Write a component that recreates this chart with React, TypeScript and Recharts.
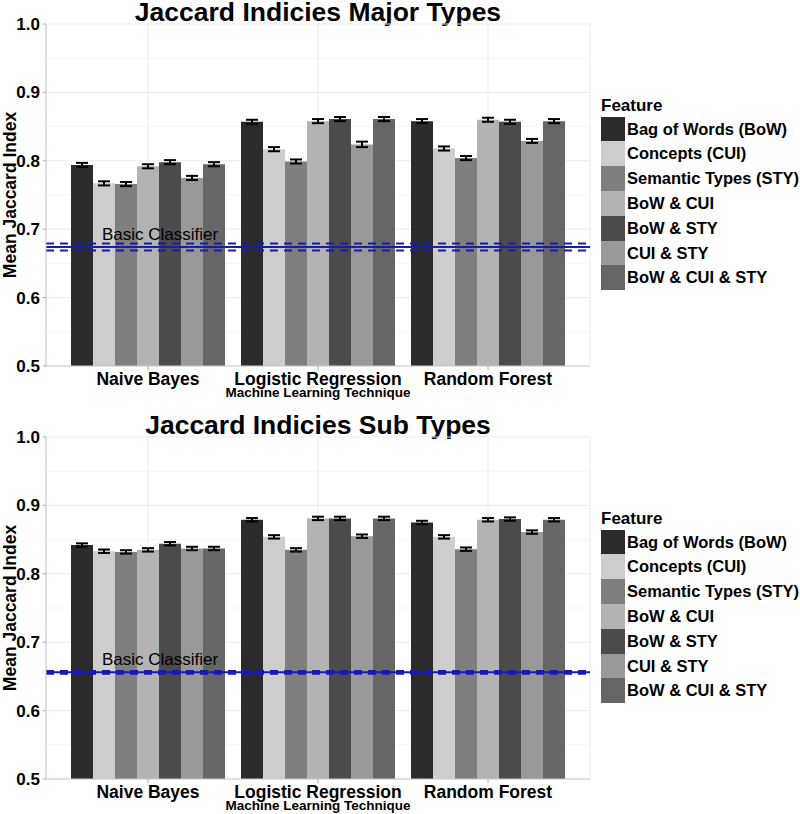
import React from 'react'
import {
  BarChart,
  Bar,
  XAxis,
  YAxis,
  CartesianGrid,
  ReferenceLine,
  ErrorBar,
} from 'recharts'

const techniques = ['Naive Bayes', 'Logistic Regression', 'Random Forest']
const features = [
  'Bag of Words (BoW)',
  'Concepts (CUI)',
  'Semantic Types (STY)',
  'BoW & CUI',
  'BoW & STY',
  'CUI & STY',
  'BoW & CUI & STY',
]
const featureKeys = ['bow', 'cui', 'sty', 'bowCui', 'bowSty', 'cuiSty', 'all']
const featureColors = ['#2b2b2b', '#cdcdcd', '#7f7f7f', '#b3b3b3', '#4b4b4b', '#999999', '#666666']

const yTicks = [0.5, 0.6, 0.7, 0.8, 0.9, 1.0]
const yMinorTicks = [0.55, 0.65, 0.75, 0.85, 0.95]

// Major types: mean Jaccard per feature set
const majorNaiveBayes = [0.794, 0.767, 0.766, 0.792, 0.798, 0.775, 0.795]
const majorLogistic = [0.857, 0.817, 0.799, 0.858, 0.861, 0.824, 0.861]
const majorForest = [0.858, 0.818, 0.804, 0.860, 0.857, 0.829, 0.858]
const majorErrNaiveBayes = [0.003, 0.003, 0.003, 0.003, 0.003, 0.003, 0.003]
const majorErrLogistic = [0.003, 0.003, 0.003, 0.003, 0.003, 0.004, 0.003]
const majorErrForest = [0.003, 0.003, 0.003, 0.003, 0.003, 0.003, 0.003]
// basic classifier: lower bound, mean, upper bound
const majorBaseline = [0.669, 0.674, 0.679]

// Sub types
const subNaiveBayes = [0.842, 0.833, 0.832, 0.835, 0.844, 0.837, 0.837]
const subLogistic = [0.879, 0.854, 0.835, 0.881, 0.881, 0.855, 0.881]
const subForest = [0.875, 0.854, 0.836, 0.879, 0.880, 0.861, 0.879]
const subErrNaiveBayes = [0.0025, 0.0025, 0.0025, 0.0025, 0.0025, 0.0025, 0.0025]
const subErrLogistic = [0.0025, 0.0025, 0.0025, 0.0025, 0.0025, 0.0025, 0.0025]
const subErrForest = [0.0025, 0.0025, 0.0025, 0.0025, 0.0025, 0.0025, 0.0025]
const subBaseline = [0.654, 0.656, 0.658]

const FONT = '"Liberation Sans", Arial, sans-serif'
const BLUE = '#1a1ab0'

function buildRows(values: number[][], errors: number[][]) {
  return techniques.map((t, i) => {
    const row: Record<string, string | number> = { technique: t }
    featureKeys.forEach((k, j) => {
      row[k] = values[i][j]
      row[k + 'Err'] = errors[i][j]
    })
    return row
  })
}

const majorRows = buildRows(
  [majorNaiveBayes, majorLogistic, majorForest],
  [majorErrNaiveBayes, majorErrLogistic, majorErrForest]
)
const subRows = buildRows(
  [subNaiveBayes, subLogistic, subForest],
  [subErrNaiveBayes, subErrLogistic, subErrForest]
)

const XTick = ({ x, y, payload }: any) => (
  <text x={x} y={y + 12.5} textAnchor="middle" fontFamily={FONT} fontWeight={700} fontSize={17.5} fill="#000">
    {payload.value}
  </text>
)

function FeatureLegend() {
  return (
    <div style={{ position: 'absolute', left: 601, top: 96, fontFamily: FONT, fontWeight: 700 }}>
      <div style={{ fontSize: 17, lineHeight: '20px', height: 20.7 }}>Feature</div>
      {features.map((f, i) => (
        <div key={f} style={{ display: 'flex', alignItems: 'center', height: 24.8 }}>
          <div style={{ width: 24, height: 24.8, background: featureColors[i] }} />
          <span style={{ fontSize: 16.5, marginLeft: 2, whiteSpace: 'nowrap' }}>{f}</span>
        </div>
      ))}
    </div>
  )
}

function JaccardPanel({
  title,
  rows,
  baseline,
  top,
  height,
}: {
  title: string
  rows: Record<string, string | number>[]
  baseline: number[]
  top: number
  height: number
}) {
  return (
    <div style={{ position: 'absolute', left: 0, top, width: 800, height }}>
      <div
        style={{
          position: 'absolute',
          left: 46,
          width: 544,
          top: 0,
          textAlign: 'center',
          fontFamily: FONT,
          fontWeight: 700,
          fontSize: 26.5,
          lineHeight: '24.5px',
        }}
      >
        {title}
      </div>
      <BarChart
        width={800}
        height={height}
        data={rows}
        margin={{ top: 24, right: 210, bottom: height - 366 - 34, left: 0 }}
        barGap={0}
        barCategoryGap={8}
      >
        <CartesianGrid stroke="#f5f5f5" horizontalValues={yMinorTicks} vertical={false} />
        <CartesianGrid stroke="#ebebeb" horizontalValues={yTicks} />
        <XAxis
          dataKey="technique"
          padding={{ left: 17, right: 17 }}
          height={34}
          tickSize={4}
          tickMargin={2}
          axisLine={{ stroke: '#cccccc' }}
          tickLine={{ stroke: '#aaaaaa' }}
          tick={<XTick />}
          interval={0}
          label={({ viewBox }: any) => (
            <text
              x={viewBox.x + viewBox.width / 2}
              y={397}
              textAnchor="middle"
              fontFamily={FONT}
              fontWeight={700}
              fontSize={13.5}
              fill="#000"
            >
              Machine Learning Technique
            </text>
          )}
        />
        <XAxis
          xAxisId="top"
          orientation="top"
          dataKey="technique"
          height={0}
          padding={{ left: 17, right: 17 }}
          tick={false}
          tickLine={false}
          axisLine={{ stroke: '#cccccc' }}
        />
        <YAxis
          domain={[0.5, 1]}
          ticks={yTicks}
          width={46}
          tickSize={3}
          tickMargin={3}
          interval={0}
          axisLine={{ stroke: '#cccccc' }}
          tickLine={{ stroke: '#aaaaaa' }}
          tickFormatter={(v: number) => v.toFixed(1)}
          tick={{ fill: '#000', fontSize: 17, fontWeight: 700, fontFamily: FONT }}
          label={({ viewBox }: any) => (
            <text
              x={15.5}
              y={viewBox.y + viewBox.height / 2}
              transform={`rotate(-90, 15.5, ${viewBox.y + viewBox.height / 2})`}
              textAnchor="middle"
              fontFamily={FONT}
              fontWeight={700}
              fontSize={17.5}
              fill="#000"
            >
              Mean Jaccard Index
            </text>
          )}
        />
        <YAxis
          yAxisId="right"
          orientation="right"
          domain={[0.5, 1]}
          width={0}
          tick={false}
          tickLine={false}
          axisLine={{ stroke: '#cccccc' }}
        />
        {featureKeys.map((k, i) => (
          <Bar key={k} dataKey={k} name={features[i]} fill={featureColors[i]} isAnimationActive={false}>
            <ErrorBar dataKey={k + 'Err'} width={6} stroke="#000" strokeWidth={2} direction="y" isAnimationActive={false} />
          </Bar>
        ))}
        <ReferenceLine y={baseline[0]} stroke={BLUE} strokeWidth={2} strokeDasharray="8 6" />
        <ReferenceLine y={baseline[2]} stroke={BLUE} strokeWidth={2} strokeDasharray="8 6" />
        <ReferenceLine
          y={baseline[1]}
          stroke={BLUE}
          strokeWidth={2}
          label={({ viewBox }: any) => (
            <text x={viewBox.x + 114} y={viewBox.y - 7} textAnchor="middle" fontFamily={FONT} fontSize={17} fill="#000">
              Basic Classifier
            </text>
          )}
        />
      </BarChart>
      <FeatureLegend />
    </div>
  )
}

export default function App() {
  return (
    <div style={{ position: 'absolute', left: 0, top: 0, width: 800, height: 814, overflow: 'hidden', background: '#fff' }}>
      <JaccardPanel title="Jaccard Indicies Major Types" rows={majorRows} baseline={majorBaseline} top={0} height={407} />
      <JaccardPanel title="Jaccard Indicies Sub Types" rows={subRows} baseline={subBaseline} top={413} height={401} />
    </div>
  )
}
